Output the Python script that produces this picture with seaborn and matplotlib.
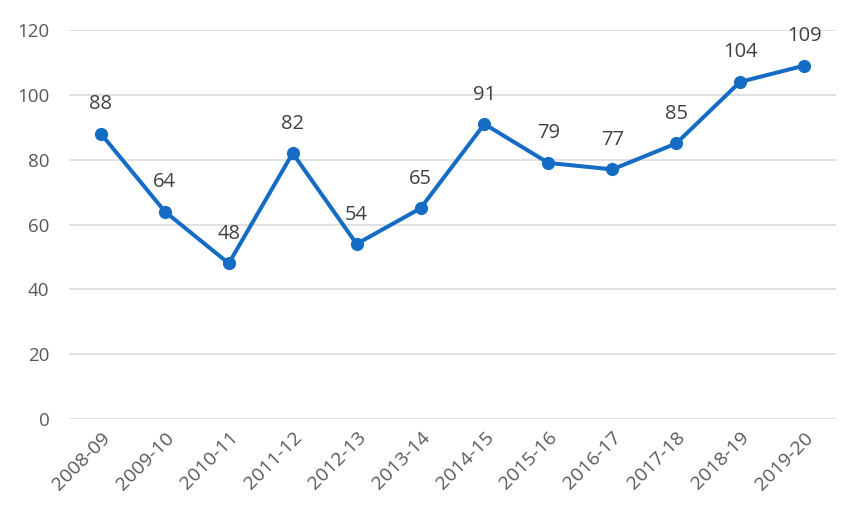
import matplotlib
matplotlib.use("Agg")
import matplotlib.pyplot as plt
import seaborn as sns
import pandas as pd

seasons = ['2008-09', '2009-10', '2010-11', '2011-12', '2012-13', '2013-14',
           '2014-15', '2015-16', '2016-17', '2017-18', '2018-19', '2019-20']
values = [88, 64, 48, 82, 54, 65, 91, 79, 77, 85, 104, 109]
y_ticks = [0, 20, 40, 60, 80, 100, 120]

df = pd.DataFrame({'season': seasons, 'value': values})

sns.set_theme(style='white')
plt.rcParams['font.family'] = ['Open Sans', 'DejaVu Sans']

line_color = '#156CC4'
text_color = '#404040'
tick_color = '#595959'

fig = plt.figure(figsize=(8.59, 5.24), dpi=100)
ax = fig.add_axes([0.0803, 0.2004, 0.8929, 0.7423])

for y in y_ticks:
    ax.axhline(y, color='#D9D9D9', linewidth=1.1, zorder=0)

sns.lineplot(data=df, x='season', y='value', ax=ax, color=line_color,
             linewidth=2.9, marker='o', markersize=9.5, markeredgewidth=0,
             sort=False)

# data labels above each point
for i, v in enumerate(values):
    ax.annotate(str(v), (i, v), xytext=(0, 14), textcoords='offset points',
                ha='center', va='bottom', fontsize=14.5, color=text_color)

ax.set_xlim(-0.5, len(seasons) - 0.5)
ax.set_ylim(0, 120)
ax.set_yticks(y_ticks)
ax.set_xlabel('')
ax.set_ylabel('')
ax.tick_params(axis='both', length=0, labelcolor=tick_color)
ax.tick_params(axis='y', pad=14, labelsize=13.5)
ax.tick_params(axis='x', pad=7, labelsize=14)
plt.setp(ax.get_xticklabels(), rotation=45, ha='right', rotation_mode='anchor')
for s in ax.spines.values():
    s.set_visible(False)

fig.savefig('out.png', dpi=100)
